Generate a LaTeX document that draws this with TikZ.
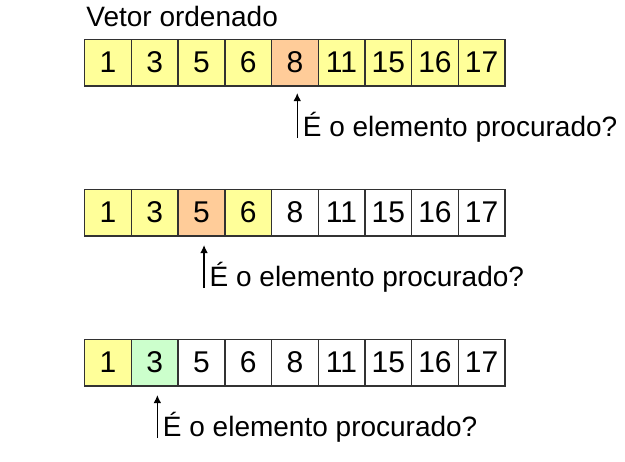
\documentclass[tikz,border=0pt]{standalone}
\usepackage{fontspec}
\setmainfont{Liberation Sans}
\usepackage{tikz}
\usetikzlibrary{positioning,arrows.meta}
\definecolor{amarelo}{RGB}{255,255,153}
\definecolor{laranja}{RGB}{255,204,153}
\definecolor{verde}{RGB}{204,255,204}
\definecolor{borda}{RGB}{50,50,50}

\begin{document}
\begin{tikzpicture}[x=0.5pt, y=-0.5pt,
    cell/.style={rectangle, draw=borda, line width=0.7pt, outer sep=0pt, inner sep=0pt, minimum width=23.35pt, minimum height=23.35pt, font=\fontsize{15}{17}\selectfont},
    rotulo/.style={inner sep=0pt, anchor=base west, font=\fontsize{14}{16}\selectfont},
    seta/.style={-{Latex[length=4pt,width=3.8pt]}, line width=0.65pt}
]
    \useasboundingbox (0,0) rectangle (625,461);

    \node[rotulo] (titulo) at (86,26) {Vetor ordenado};

    % primeira passagem
    \node[cell, fill=amarelo, anchor=north west] (a1) at (84.7,39.3) {1};
    \node[cell, fill=amarelo, right=0pt of a1] (a2) {3};
    \node[cell, fill=amarelo, right=0pt of a2] (a3) {5};
    \node[cell, fill=amarelo, right=0pt of a3] (a4) {6};
    \node[cell, fill=laranja, right=0pt of a4] (a5) {8};
    \node[cell, fill=amarelo, right=0pt of a5] (a6) {11};
    \node[cell, fill=amarelo, right=0pt of a6] (a7) {15};
    \node[cell, fill=amarelo, right=0pt of a7] (a8) {16};
    \node[cell, fill=amarelo, right=0pt of a8] (a9) {17};

    \coordinate (ta) at ([xshift=1.2pt, yshift=-3.5pt]a5.south);
    \node[rotulo] (qa) at ([xshift=2.6pt, yshift=-21.5pt]ta) {É o elemento procurado?};
    \draw[seta] ([yshift=-1pt]ta |- qa.base) -- (ta);

    % segunda passagem
    \node[cell, fill=amarelo, anchor=north west] (b1) at (84.7,189.3) {1};
    \node[cell, fill=amarelo, right=0pt of b1] (b2) {3};
    \node[cell, fill=laranja, right=0pt of b2] (b3) {5};
    \node[cell, fill=amarelo, right=0pt of b3] (b4) {6};
    \node[cell, right=0pt of b4] (b5) {8};
    \node[cell, right=0pt of b5] (b6) {11};
    \node[cell, right=0pt of b6] (b7) {15};
    \node[cell, right=0pt of b7] (b8) {16};
    \node[cell, right=0pt of b8] (b9) {17};

    \coordinate (tb) at ([xshift=1.3pt, yshift=-4.5pt]b3.south);
    \node[rotulo] (qb) at ([xshift=2.6pt, yshift=-20.5pt]tb) {É o elemento procurado?};
    \draw[seta] ([yshift=-1pt]tb |- qb.base) -- (tb);

    % terceira passagem
    \node[cell, fill=amarelo, anchor=north west] (c1) at (84.7,339.3) {1};
    \node[cell, fill=verde, right=0pt of c1] (c2) {3};
    \node[cell, right=0pt of c2] (c3) {5};
    \node[cell, right=0pt of c3] (c4) {6};
    \node[cell, right=0pt of c4] (c5) {8};
    \node[cell, right=0pt of c5] (c6) {11};
    \node[cell, right=0pt of c6] (c7) {15};
    \node[cell, right=0pt of c7] (c8) {16};
    \node[cell, right=0pt of c8] (c9) {17};

    \coordinate (tc) at ([xshift=1.3pt, yshift=-4.5pt]c2.south);
    \node[rotulo] (qc) at ([xshift=2.6pt, yshift=-20.5pt]tc) {É o elemento procurado?};
    \draw[seta] ([yshift=-1pt]tc |- qc.base) -- (tc);
\end{tikzpicture}
\end{document}
